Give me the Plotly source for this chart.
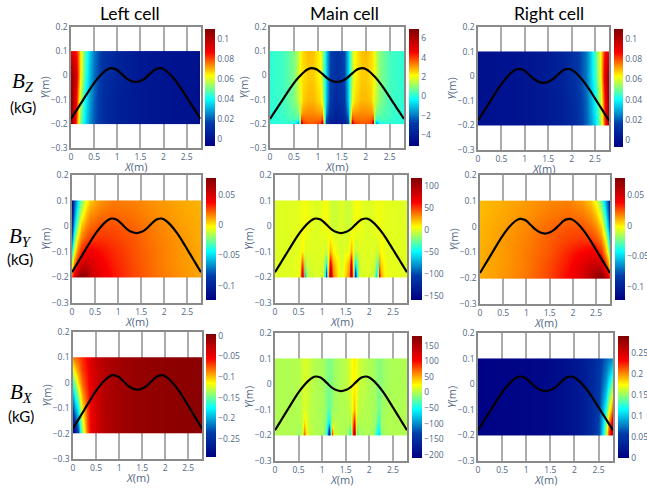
import plotly.graph_objects as go

W, H = 647, 489
FONT = "Open Sans"
TICK = "#506784"

# ---- black curve ----
curve_x = [0, .1, .2, .3, .4, .5, .6, .7, .8, .87, .95, 1.0, 1.1, 1.2, 1.3, 1.4, 1.5, 1.6, 1.7, 1.8, 1.85, 1.93, 2.0, 2.1, 2.2, 2.3, 2.4, 2.5, 2.6, 2.7, 2.8]
curve_y = [-.18, -.15, -.12, -.09, -.06, -.032, -.008, .012, .026, .03, .027, .022, .005, -.012, -.023, -.027, -.023, -.012, .005, .022, .027, .03, .026, .012, -.008, -.032, -.06, -.09, -.12, -.15, -.18]

# ---- field tables: rows run y = top to bottom ----
y_a = [.1, 0, -.1, -.2]
x_a = [0, .05, .1, .15, .2, .3, .4, .5, .7, 1, 1.5, 2, 2.8]
z_a = [[.09, .09, .085, .078, .066, .047, .033, .024, .013, .007, .003, .001, 0],
       [.105, .102, .094, .08, .066, .045, .031, .023, .012, .007, .003, .001, 0],
       [.108, .10, .088, .073, .058, .04, .028, .021, .011, .006, .003, .001, 0],
       [.11, .097, .082, .066, .052, .036, .026, .02, .011, .006, .003, .001, 0]]

y_b = [.1, 0, -.1, -.15, -.18, -.2]
x_b = [0, .3, .5, .58, .62, .65, .68, .8, .9, 1.05, 1.09, 1.12, 1.16, 1.25, 1.4, 1.55, 1.64, 1.68, 1.71, 1.75, 1.9, 2.0, 2.12, 2.15, 2.18, 2.22, 2.3, 2.5, 2.8]
z_b = [[.1, .3, .9, 1.5, 2.0, 2.3, 2.5, 2.8, 2.7, 2.1, 1.4, .4, -.9, -2.6, -3.2, -2.6, -.9, .4, 1.4, 2.1, 2.7, 2.8, 2.5, 2.3, 2.0, 1.5, .9, .3, .1],
       [.1, .3, .9, 1.6, 2.1, 2.3, 2.4, 2.6, 2.6, 2.1, 1.4, .4, -.9, -2.7, -3.3, -2.7, -.9, .4, 1.4, 2.1, 2.6, 2.6, 2.4, 2.3, 2.1, 1.6, .9, .3, .1],
       [.1, .3, .9, 1.5, 1.7, 2.2, 2.6, 2.8, 2.8, 2.4, 1.8, .6, -1.0, -2.9, -3.5, -2.9, -1.0, .6, 1.8, 2.4, 2.8, 2.8, 2.6, 2.2, 1.7, 1.5, .9, .3, .1],
       [0, .3, .6, .9, 1.6, 2.8, 3.1, 3.2, 3.2, 3.0, 3.0, 1.0, -1.6, -3.2, -3.7, -3.2, -1.6, 1.0, 3.0, 3.0, 3.2, 3.2, 3.1, 2.8, 1.6, .9, .6, .3, 0],
       [0, .2, .4, .2, 1.5, 4.0, 3.6, 3.5, 3.5, 3.5, 4.0, 1.5, -2.4, -3.6, -3.9, -3.6, -2.4, 1.5, 4.0, 3.5, 3.5, 3.5, 3.6, 4.0, 1.5, .2, .4, .2, 0],
       [0, .1, -.1, -1.5, 1.0, 6.0, 4.0, 3.7, 3.7, 4.0, 6.0, 1.0, -3.0, -3.9, -4.3, -3.9, -3.0, 1.0, 6.0, 4.0, 3.7, 3.7, 4.0, 6.0, 1.0, -1.5, -.1, .1, 0]]

y_c = [.1, 0, -.1, -.2]
x_c = [0, .8, 1.3, 1.8, 2.1, 2.3, 2.4, 2.5, 2.6, 2.65, 2.7, 2.75, 2.8]
z_c = [[0, .001, .003, .007, .014, .024, .033, .047, .062, .072, .084, .09, .09],
       [0, .001, .003, .007, .014, .024, .033, .045, .061, .074, .088, .10, .105],
       [0, .001, .003, .006, .012, .022, .03, .04, .056, .068, .082, .098, .108],
       [0, .001, .003, .006, .011, .021, .027, .036, .052, .063, .078, .095, .11]]

y_d = [.1, .05, 0, -.05, -.1, -.15, -.2]
x_d = [0, .05, .1, .2, .3, .4, .6, .9, 1.3, 1.8, 2.3, 2.8]
z_d = [[-.115, -.08, -.055, -.025, -.005, .006, .014, .018, .017, .014, .011, .009],
       [-.105, -.07, -.04, -.01, .006, .014, .019, .021, .019, .015, .012, .009],
       [-.09, -.055, -.022, .006, .016, .021, .025, .025, .022, .017, .013, .010],
       [-.07, -.03, 0, .018, .026, .029, .03, .028, .024, .018, .014, .010],
       [-.04, -.005, .015, .032, .038, .04, .036, .031, .025, .019, .014, .011],
       [-.005, .018, .035, .052, .054, .049, .04, .033, .026, .019, .014, .011],
       [.028, .048, .063, .076, .072, .056, .044, .035, .027, .02, .015, .011]]

y_e = [.1, 0, -.1, -.15, -.2]
x_e = [0, .3, .5, .54, .58, .61, .64, .68, .9, 1.02, 1.06, 1.09, 1.13, 1.17, 1.22, 1.4, 1.58, 1.62, 1.66, 1.70, 1.74, 1.78, 1.95, 2.1, 2.15, 2.18, 2.21, 2.25, 2.35, 2.8]
z_e = [[0, 0, 1, 2, 3, 5, 5, 3, -1, 3, 5, 5, 2, -2, -5, -1, -5, -2, 2, 5, 5, 3, -1, 1, 3, 4, 4, 3, 1, 0],
       [0, 0, 1, 2, 3, 5, 5, 3, -1, 3, 5, 5, 2, -2, -5, -1, -5, -2, 2, 5, 5, 3, -1, 1, 3, 4, 4, 3, 1, 0],
       [0, 0, 1, 2, 10, 6, -3, 0, 0, 0, -5, -5, 5, 25, 8, -3, 5, 25, 8, -8, -5, 0, 0, 0, -5, -5, 12, 6, 1, 0],
       [0, 0, 2, 10, 50, 20, -20, -3, 0, -2, -25, -50, 10, 70, 25, -3, 25, 80, 10, -55, -25, -2, 0, -2, -20, -40, 30, 15, 2, 0],
       [0, 0, 2, 20, 90, 30, -70, -8, 0, -3, -50, -130, 20, 110, 35, -3, 35, 105, 20, -135, -50, -3, 0, -5, -60, 0, 70, 25, 3, 0]]

y_f = [.1, .05, 0, -.05, -.1, -.15, -.2]
x_f = [0, .5, 1.0, 1.5, 1.9, 2.2, 2.4, 2.5, 2.6, 2.7, 2.75, 2.8]
z_f = [[.009, .011, .014, .017, .018, .014, .006, -.005, -.025, -.055, -.08, -.115],
       [.009, .012, .015, .019, .021, .019, .014, .006, -.01, -.04, -.07, -.105],
       [.01, .013, .017, .022, .025, .025, .021, .016, .006, -.022, -.055, -.09],
       [.01, .014, .018, .024, .028, .03, .029, .026, .018, 0, -.03, -.07],
       [.011, .014, .019, .025, .033, .039, .042, .04, .033, .015, -.005, -.04],
       [.011, .014, .019, .027, .036, .046, .054, .056, .054, .035, .018, -.005],
       [.011, .015, .02, .028, .038, .05, .062, .072, .077, .063, .048, .028]]

y_g = [.1, .05, 0, -.05, -.1, -.15, -.2]
x_g = [0, .05, .1, .15, .2, .3, .4, .5, .7, 1, 1.5, 2, 2.8]
z_g = [[-.085, -.08, -.075, -.07, -.065, -.055, -.04, -.03, -.02, -.012, -.006, -.003, -.001],
       [-.12, -.105, -.09, -.08, -.07, -.058, -.042, -.032, -.02, -.012, -.006, -.003, -.001],
       [-.16, -.14, -.11, -.095, -.08, -.062, -.044, -.033, -.02, -.012, -.006, -.003, -.001],
       [-.195, -.17, -.14, -.115, -.095, -.068, -.046, -.034, -.02, -.012, -.006, -.003, -.001],
       [-.225, -.20, -.175, -.14, -.11, -.072, -.048, -.035, -.02, -.012, -.006, -.003, -.001],
       [-.26, -.235, -.2, -.16, -.125, -.075, -.05, -.036, -.021, -.012, -.006, -.003, -.001],
       [-.29, -.27, -.235, -.18, -.14, -.08, -.05, -.036, -.021, -.012, -.006, -.003, -.001]]

y_h = [.1, 0, -.1, -.15, -.2]
x_h = [0, .4, .52, .57, .62, .67, .8, 1.0, 1.08, 1.11, 1.15, 1.2, 1.25, 1.4, 1.55, 1.6, 1.67, 1.73, 1.78, 2.0, 2.1, 2.15, 2.2, 2.25, 2.4, 2.8]
z_h = [[0, 0, 3, 10, 15, 10, 2, -3, -10, -14, -17, -13, -6, 0, 6, 18, 30, 20, 8, -1, -4, -8, -15, -10, -2, 0],
       [0, 0, 2, 8, 13, 9, 2, -3, -10, -14, -16, -12, -6, 0, 6, 16, 28, 18, 8, -1, -4, -8, -14, -10, -2, 0],
       [0, 0, 1, 8, 15, 8, 1, -2, -12, -20, -28, -10, -3, 0, 2, 5, 45, 12, 3, 0, -4, -8, -22, -8, -1, 0],
       [0, 0, 0, 5, 35, 10, 0, -1, -15, -40, -60, 10, 2, 0, 0, -10, 100, -5, 0, 0, -5, -15, -40, -5, 0, 0],
       [0, 0, -8, 5, 75, 15, 0, -1, -30, -70, -200, 90, 10, 0, -5, -65, 175, -40, -5, 0, -8, -45, -70, -8, 0, 0]]

y_i = [.1, .05, 0, -.05, -.1, -.15, -.2]
x_i = [0, .8, 1.3, 1.8, 2.1, 2.3, 2.4, 2.5, 2.6, 2.65, 2.7, 2.75, 2.8]
z_i = [[.001, .004, .007, .014, .022, .032, .04, .05, .062, .07, .075, .08, .088],
       [.001, .004, .007, .014, .022, .033, .041, .052, .068, .078, .09, .105, .125],
       [.001, .004, .007, .014, .022, .033, .042, .055, .075, .09, .11, .135, .16],
       [.001, .004, .007, .014, .022, .034, .043, .057, .085, .105, .135, .165, .195],
       [.001, .004, .007, .014, .022, .034, .044, .06, .095, .125, .16, .19, .225],
       [.001, .004, .007, .014, .022, .035, .045, .063, .105, .145, .19, .23, .26],
       [.001, .004, .007, .014, .022, .035, .045, .065, .115, .16, .21, .26, .29]]

# pixel boxes: frame (x0, x1, y0, y1), colour bar (x0, x1, y0, y1), colour range, tick step
panels = [
    (x_a, y_a, z_a, (71, 200.5, 27, 148), (205, 215, 29, 146), (-.0067, .1104), .02),
    (x_b, y_b, z_b, (270, 404, 27, 148), (409, 419, 29, 146), (-5.14, 6.97), 2),
    (x_c, y_c, z_c, (478, 609, 27, 150), (614, 623, 29, 146.5), (-.0063, .11), .02),
    (x_d, y_d, z_d, (72, 201, 175, 303), (206, 216, 178, 300), (-.1237, .0776), .05),
    (x_e, y_e, z_e, (275, 407, 175, 303), (411, 422, 178, 300), (-158, 117), 50),
    (x_f, y_f, z_f, (480, 610, 175, 304), (615, 625, 178, 300), (-.122, .0784), .05),
    (x_g, y_g, z_g, (73, 202, 332, 459), (206, 216, 334, 457), (-.293, .004), .05),
    (x_h, y_h, z_h, (275, 407, 333, 461), (412, 422, 336, 458), (-210, 181), 50),
    (x_i, y_i, z_i, (478, 613, 333, 461), (618, 629, 336, 458), (-.001, .292), .05),
]

col_titles = [("Left cell", 130), ("Main cell", 344), ("Right cell", 549)]
row_labels = [("Z", 23, 82, 107), ("Y", 20, 237, 259), ("X", 21, 393, 416)]


def snug(xs, ys, zs):
    """A heatmap paints half a cell past its outer samples; repeat each outer row and
    column a hair inside so the colour stops at the sampled edges."""
    e = 1e-3
    xs2 = [xs[0], xs[0] + e] + xs[1:-1] + [xs[-1] - e, xs[-1]]
    ys2 = [ys[0], ys[0] - e] + ys[1:-1] + [ys[-1] + e, ys[-1]]
    rows = [[r[0], r[0]] + r[1:-1] + [r[-1], r[-1]] for r in zs]
    return xs2, ys2, [rows[0], rows[0]] + rows[1:-1] + [rows[-1], rows[-1]]


ann = []
fig = go.Figure()
for n, (xs, ys, zs, fr, cb, rng, step) in enumerate(panels, start=1):
    sfx = "" if n == 1 else str(n)
    gx, gy, gz = snug(xs, ys, zs)
    fig.add_trace(go.Heatmap(
        x=gx, y=gy, z=gz, zsmooth="best", colorscale="Jet", zmin=rng[0], zmax=rng[1],
        xaxis="x" + sfx, yaxis="y" + sfx,
        colorbar=dict(
            x=cb[0] / W, xanchor="left", xpad=0, ypad=0,
            y=1 - cb[3] / H, yanchor="bottom", len=(cb[3] - cb[2]) / H, lenmode="fraction",
            thickness=cb[1] - cb[0], thicknessmode="pixels", outlinewidth=0,
            dtick=step, tick0=0, ticks="", ticklabelposition="outside",
            tickfont=dict(family=FONT, size=8.5, color=TICK),
        ),
    ))
    fig.add_trace(go.Scatter(
        x=curve_x, y=curve_y, mode="lines", xaxis="x" + sfx, yaxis="y" + sfx,
        line=dict(color="black", width=2.2, shape="spline"), showlegend=False,
    ))
    common = dict(
        showline=True, linecolor="#8a8a8a", linewidth=1.5, mirror=True, ticks="",
        tickfont=dict(family=FONT, size=8.5, color=TICK),
        zeroline=False, automargin=False,
    )
    fig.layout["xaxis" + sfx] = dict(
        common, domain=[fr[0] / W, fr[1] / W], anchor="y" + sfx, range=[0, 2.8], dtick=.5, tick0=0,
        showgrid=True, gridcolor="#ababab", gridwidth=1.5,
    )
    fig.layout["yaxis" + sfx] = dict(
        common, domain=[1 - fr[3] / H, 1 - fr[2] / H], anchor="x" + sfx, range=[-.3, .2], dtick=.1, tick0=0,
        showgrid=False,
    )
    # axis names sit tight against the tick labels, as in the reference
    ann.append(dict(x=(fr[0] + fr[1]) / 2 / W, y=1 - (fr[3] + 18.5) / H, text="<i>X</i>(m)",
                    font=dict(family=FONT, size=11, color=TICK)))
    ann.append(dict(x=(fr[0] - 27) / W, y=1 - (fr[2] + fr[3]) / 2 / H, text="<i>Y</i>(m)", textangle=-90,
                    font=dict(family=FONT, size=11, color=TICK)))

for text, cx in col_titles:
    ann.append(dict(x=cx / W, y=1 - 13 / H, text=text, font=dict(family="Lato", size=17.5, color="black")))
for sub, cx, y1, y2 in row_labels:
    ann.append(dict(x=cx / W, y=1 - y1 / H, text=f"<i>B<sub>{sub}</sub></i>",
                    font=dict(family="Liberation Serif", size=21, color="black")))
    ann.append(dict(x=cx / W, y=1 - y2 / H, text="(kG)", font=dict(family="Lato", size=15, color="black")))
for a in ann:
    a.update(xref="paper", yref="paper", showarrow=False, xanchor="center", yanchor="middle")

fig.update_layout(
    width=W, height=H, autosize=False, paper_bgcolor="white", plot_bgcolor="white",
    margin=dict(l=0, r=0, t=0, b=0, autoexpand=False), showlegend=False, annotations=ann,
    font=dict(family=FONT),
)
fig.write_html("out.html", config={"displayModeBar": False}, post_script="document.body.style.margin='0';")
